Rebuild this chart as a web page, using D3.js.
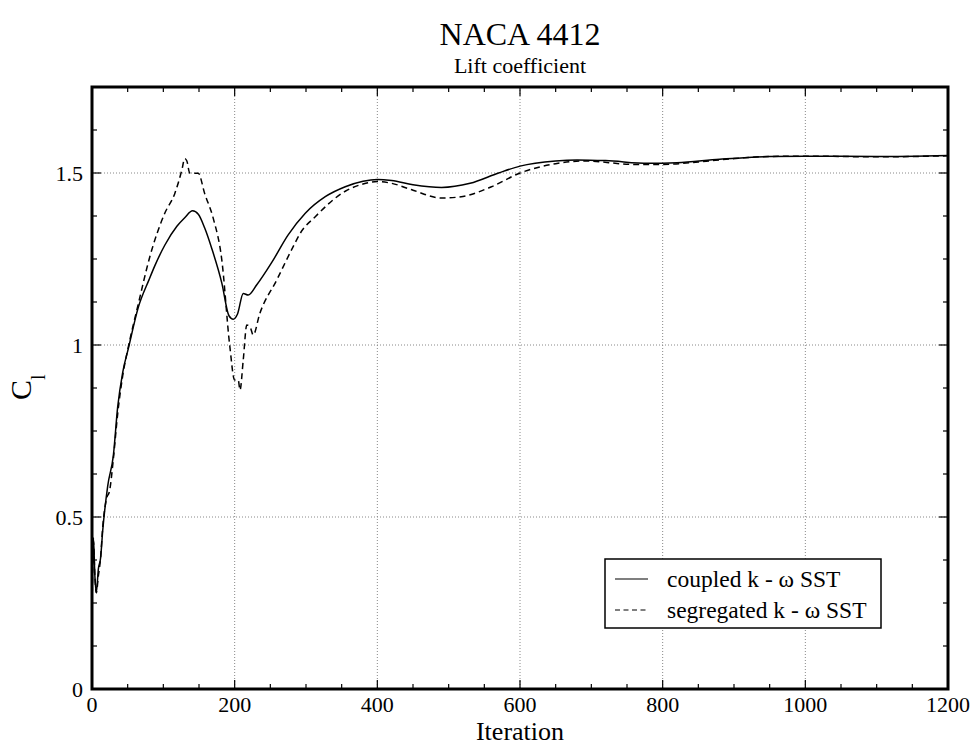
<!DOCTYPE html>
<html>
<head>
<meta charset="utf-8">
<script src="https://cdn.jsdelivr.net/npm/d3@7"></script>
<style>
  body { margin: 0; background: #fff; }
  text { font-family: "Liberation Serif", "DejaVu Serif", serif; fill: #000; }
</style>
</head>
<body>
<div id="chart"></div>
<script>
// coupled k-omega SST (solid line)
const coupledIter = [0, 2, 4, 6, 9, 12, 15, 22, 30, 36, 43, 51, 65, 80, 88, 102, 119, 130, 141, 149,
  158, 168, 182, 192, 198, 204, 212, 219, 231, 252, 275, 299, 327, 355, 380, 400, 420, 450, 490,
  530, 570, 600, 650, 680, 720, 780, 820, 880, 950, 1000, 1100, 1200];
const coupledCl = [0.22, 0.44, 0.33, 0.28, 0.35, 0.38, 0.46, 0.59, 0.68, 0.82, 0.92, 0.99, 1.11, 1.19, 1.23, 1.29, 1.345, 1.37, 1.39, 1.38,
  1.34, 1.28, 1.18, 1.085, 1.075, 1.09, 1.15, 1.145, 1.175, 1.24, 1.32, 1.383, 1.431, 1.46, 1.476, 1.481, 1.478, 1.466, 1.458,
  1.47, 1.50, 1.52, 1.535, 1.538, 1.536, 1.528, 1.53, 1.54, 1.548, 1.549, 1.548, 1.551];

// segregated k-omega SST (dashed line)
const segregatedIter = [0, 2, 4, 6, 9, 12, 15, 20, 25, 30, 36, 43, 51, 65, 81, 102, 116, 126, 130, 133,
  137, 149, 158, 170, 182, 193, 200, 205, 207.5, 212, 217, 221.5, 226, 235, 259, 282, 292, 313, 355,
  380, 400, 420, 450, 490, 520, 560, 600, 650, 690, 760, 800, 850, 900, 950, 1000, 1100, 1200];
const segregatedCl = [0.22, 0.43, 0.33, 0.28, 0.33, 0.38, 0.47, 0.55, 0.58, 0.67, 0.80, 0.91, 0.995, 1.12, 1.256, 1.383, 1.44, 1.509, 1.542, 1.535,
  1.50, 1.499, 1.44, 1.368, 1.247, 1.0, 0.898, 0.898, 0.869, 0.956, 1.058, 1.053, 1.029, 1.09, 1.189, 1.286, 1.325, 1.373, 1.447,
  1.468, 1.475, 1.47, 1.45, 1.427, 1.432, 1.46, 1.50, 1.527, 1.535, 1.525, 1.525, 1.532, 1.542, 1.548, 1.549, 1.547, 1.55];

const xTicks = [0, 200, 400, 600, 800, 1000, 1200];
const yTicks = [0, 0.5, 1, 1.5];
const yTickLabels = ["0", "0.5", "1", "1.5"];
const seriesNames = ["coupled k - \u03C9 SST", "segregated k - \u03C9 SST"];

const width = 976, height = 749;
const margin = { top: 87, right: 28, bottom: 60, left: 92 };
const w = width - margin.left - margin.right;
const h = height - margin.top - margin.bottom;

const svg = d3.select("#chart").append("svg")
  .attr("width", width)
  .attr("height", height);

const g = svg.append("g")
  .attr("transform", `translate(${margin.left},${margin.top})`);

const x = d3.scaleLinear().domain([0, 1200]).range([0, w]);
const y = d3.scaleLinear().domain([0, 1.75]).range([h, 0]);

// dotted grid
g.append("g").selectAll("line")
  .data(xTicks.slice(1, -1))
  .join("line")
  .attr("x1", d => x(d)).attr("x2", d => x(d))
  .attr("y1", 0).attr("y2", h)
  .attr("stroke", "#888").attr("stroke-width", 1).attr("stroke-dasharray", "1,2");

g.append("g").selectAll("line")
  .data(yTicks.slice(1))
  .join("line")
  .attr("y1", d => y(d)).attr("y2", d => y(d))
  .attr("x1", 0).attr("x2", w)
  .attr("stroke", "#888").attr("stroke-width", 1).attr("stroke-dasharray", "1,2");

// inward ticks on all four sides
const xMinor = d3.range(0, 1201, 50).filter(d => d % 200 !== 0);
const yMinor = d3.range(0, 1.751, 0.125).filter(d => Math.abs(d * 2 - Math.round(d * 2)) > 1e-6);

function tickSet(data, len, horizontal) {
  const tg = g.append("g").attr("stroke", "#000").attr("stroke-width", 1.2);
  if (horizontal) {
    tg.selectAll(".b").data(data).join("line")
      .attr("x1", d => x(d)).attr("x2", d => x(d)).attr("y1", h).attr("y2", h - len);
    tg.selectAll(".t").data(data).join("line")
      .attr("x1", d => x(d)).attr("x2", d => x(d)).attr("y1", 0).attr("y2", len);
  } else {
    tg.selectAll(".l").data(data).join("line")
      .attr("y1", d => y(d)).attr("y2", d => y(d)).attr("x1", 0).attr("x2", len);
    tg.selectAll(".r").data(data).join("line")
      .attr("y1", d => y(d)).attr("y2", d => y(d)).attr("x1", w).attr("x2", w - len);
  }
}
tickSet(xMinor, 5, true);
tickSet(xTicks, 9, true);
tickSet(yMinor, 5, false);
tickSet(yTicks, 9, false);

// curves
const line = d3.line()
  .x(d => x(d[0]))
  .y(d => y(d[1]))
  .curve(d3.curveMonotoneX);

const coupled = coupledIter.map((d, i) => [d, coupledCl[i]]);
const segregated = segregatedIter.map((d, i) => [d, segregatedCl[i]]);

g.append("path")
  .datum(segregated)
  .attr("fill", "none")
  .attr("stroke", "#000")
  .attr("stroke-width", 1.5)
  .attr("stroke-dasharray", "6,4")
  .attr("d", line);

g.append("path")
  .datum(coupled)
  .attr("fill", "none")
  .attr("stroke", "#000")
  .attr("stroke-width", 1.5)
  .attr("d", line);

// frame
g.append("rect")
  .attr("width", w).attr("height", h)
  .attr("fill", "none").attr("stroke", "#000").attr("stroke-width", 3);

// tick labels
g.append("g").selectAll("text")
  .data(xTicks)
  .join("text")
  .attr("x", d => x(d))
  .attr("y", h + 23)
  .attr("text-anchor", "middle")
  .attr("font-size", 22)
  .text(d => d);

g.append("g").selectAll("text")
  .data(yTicks)
  .join("text")
  .attr("x", -9)
  .attr("y", d => y(d))
  .attr("dy", "0.35em")
  .attr("text-anchor", "end")
  .attr("font-size", 22)
  .text((d, i) => yTickLabels[i]);

// titles
svg.append("text")
  .attr("x", margin.left + w / 2)
  .attr("y", 45)
  .attr("text-anchor", "middle")
  .attr("font-size", 32)
  .text("NACA 4412");

svg.append("text")
  .attr("x", margin.left + w / 2)
  .attr("y", 73)
  .attr("text-anchor", "middle")
  .attr("font-size", 22)
  .text("Lift coefficient");

svg.append("text")
  .attr("x", margin.left + w / 2)
  .attr("y", 740)
  .attr("text-anchor", "middle")
  .attr("font-size", 26)
  .text("Iteration");

const yLab = svg.append("text")
  .attr("transform", "translate(31,400) rotate(-90)")
  .attr("font-size", 30);
yLab.append("tspan").text("C");
yLab.append("tspan").attr("dy", 14).attr("font-size", 20).text("l");

// legend
const legend = svg.append("g").attr("transform", "translate(605,559)");
legend.append("rect")
  .attr("width", 276).attr("height", 69)
  .attr("fill", "#fff").attr("stroke", "#000").attr("stroke-width", 1.5);

const items = legend.selectAll(".item")
  .data(seriesNames)
  .join("g")
  .attr("class", "item")
  .attr("transform", (d, i) => `translate(0,${20 + i * 31})`);

items.append("line")
  .attr("x1", 10).attr("x2", 43)
  .attr("stroke", "#000").attr("stroke-width", 1.2)
  .attr("stroke-dasharray", (d, i) => i === 1 ? "5,3.5" : null);

items.append("text")
  .attr("x", 62)
  .attr("dy", "0.35em")
  .attr("font-size", 23.5)
  .text(d => d);
</script>
</body>
</html>
